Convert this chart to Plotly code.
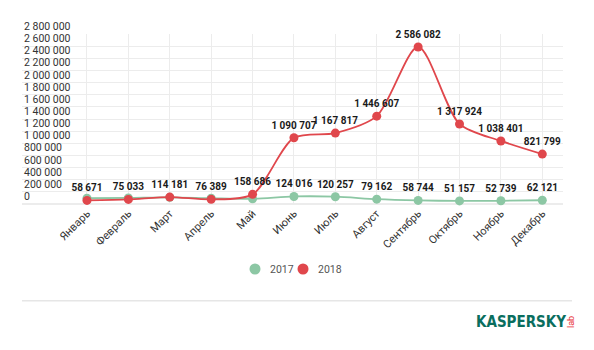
import plotly.graph_objects as go

months = ["Январь", "Февраль", "Март", "Апрель", "Май", "Июнь", "Июль",
          "Август", "Сентябрь", "Октябрь", "Ноябрь", "Декабрь"]
values_2017 = [95000, 100000, 110000, 95000, 85000, 124016, 120257,
               79162, 58744, 51157, 52739, 62121]
values_2018 = [58671, 75033, 114181, 76389, 158686, 1090707, 1167817,
               1446607, 2586082, 1317924, 1038401, 821799]
show_label_2017 = [False, False, False, False, False, True, True,
                   True, True, True, True, True]
show_label_2018 = [True] * 12
y_ticks = list(range(0, 2800001, 200000))
series_names = ["2017", "2018"]

GREEN = "#8cc7a4"
RED = "#e0474c"


def fmt(v):
    return f"{v:,}".replace(",", " ")


W, H = 594, 350
L, R, T, B = 22, 31, 34, 146
pw = W - L - R
ph = H - T - B
YMAX = 2800000


def px_x(p):
    return (p - L) / pw


def px_y(q):
    return (H - B - q) / ph


fig = go.Figure()
for name, vals, show, color in [(series_names[0], values_2017, show_label_2017, GREEN),
                                (series_names[1], values_2018, show_label_2018, RED)]:
    fig.add_trace(go.Scatter(
        x=months, y=vals, mode="lines+markers+text", name=name,
        line=dict(color=color, width=1.8, shape="spline", smoothing=0.8),
        marker=dict(color=color, size=9),
        text=[fmt(v) if s else "" for v, s in zip(vals, show)],
        textposition="top center",
        textfont=dict(family="Roboto", size=10, color="#1a1a1a", weight="bold"),
        showlegend=False, cliponaxis=False,
    ))

annotations = []
# y tick labels sitting above their gridlines
for v in y_ticks:
    annotations.append(dict(
        text=fmt(v), xref="paper", yref="y", x=0, y=v,
        xanchor="left", yanchor="bottom", showarrow=False, yshift=-1,
        font=dict(family="Roboto", size=10.5, color="#333")))

shapes = [dict(type="line", xref="paper", yref="paper",
               x0=0, x1=px_x(572),
               y0=px_y(300.7), y1=px_y(300.7),
               line=dict(color="#e6e6e6", width=1.5))]

# manual legend
legend_x = [255, 303]
for name, color, lx in zip(series_names, [GREEN, RED], legend_x):
    shapes.append(dict(type="circle", xref="paper", yref="paper",
                       x0=px_x(lx - 5.5), x1=px_x(lx + 5.5),
                       y0=px_y(269 + 5.5), y1=px_y(269 - 5.5),
                       fillcolor=color, line=dict(width=0)))
    annotations.append(dict(text=name, xref="paper", yref="paper",
                            x=px_x(lx + 13), y=px_y(269), xanchor="left",
                            yanchor="middle", showarrow=False,
                            font=dict(family="Roboto", size=10.5, color="#555")))

annotations += [
    dict(text="<b>KASPERSKY</b>", xref="paper", yref="paper",
         x=px_x(568), y=px_y(322), xanchor="right", yanchor="middle",
         showarrow=False,
         font=dict(family="DejaVu Sans Condensed", size=15, color="#0a6e5e")),
    dict(text="lab", xref="paper", yref="paper",
         x=px_x(571), y=px_y(322), xanchor="center", yanchor="middle",
         textangle=-90, showarrow=False,
         font=dict(family="Roboto", size=9, color="#e8343a")),
]

fig.update_layout(
    width=W, height=H,
    margin=dict(l=L, r=R, t=T, b=B),
    paper_bgcolor="white", plot_bgcolor="white",
    font=dict(family="Roboto", size=10, color="#444"),
    showlegend=False,
    xaxis=dict(
        type="category", range=[-1.57, 11.5],
        showgrid=True, gridcolor="#ececec", gridwidth=1,
        tickangle=-45, ticks="", showline=False, zeroline=False,
        tickfont=dict(family="Roboto", size=11, color="#333"),
    ),
    yaxis=dict(
        range=[0, YMAX], tickvals=y_ticks, showticklabels=False,
        showgrid=True, gridcolor="#ececec", gridwidth=1,
        zeroline=True, zerolinecolor="#ececec", showline=False, ticks="",
    ),
    shapes=shapes,
    annotations=annotations,
)

fig.write_html("out.html")
